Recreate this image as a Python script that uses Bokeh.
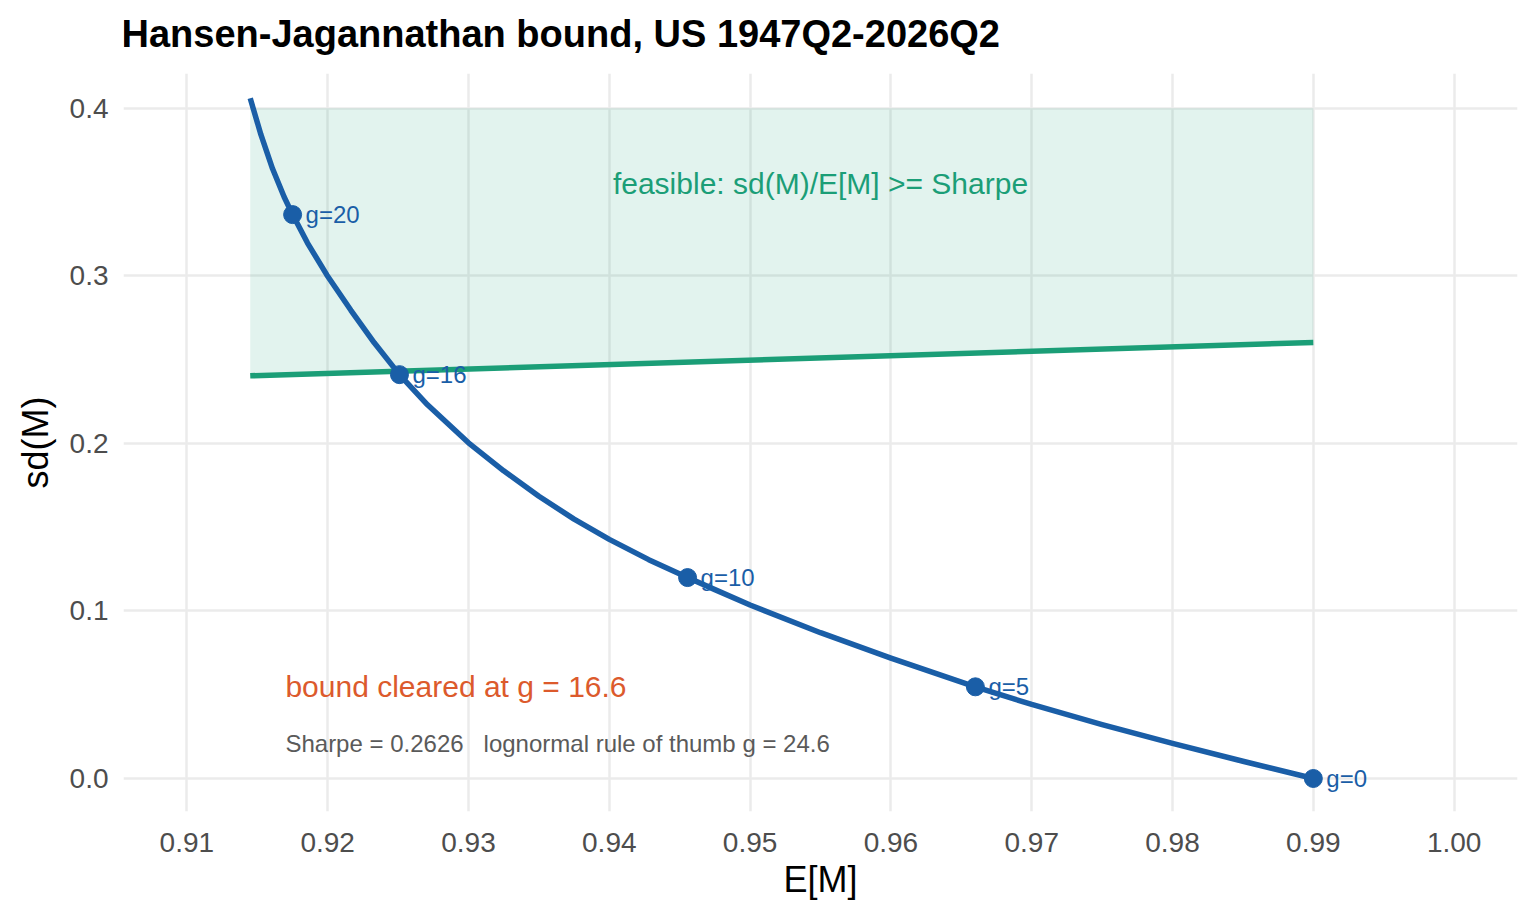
from bokeh.plotting import figure
from bokeh.layouts import column
from bokeh.models import Range1d, FixedTicker, ColumnDataSource
from bokeh.embed import file_html
from bokeh.resources import INLINE
from bokeh.core.properties import value

# ---- data ----
# Hansen-Jagannathan frontier of the power-utility SDF (E[M], sd(M))
curve_em = [0.91450, 0.91526, 0.91608, 0.91691, 0.91751, 0.91857, 0.91994,
            0.92165, 0.92331, 0.92510, 0.92709, 0.93000, 0.93250, 0.93500,
            0.93750, 0.94000, 0.94280, 0.94556, 0.94750, 0.95000, 0.95500,
            0.96000, 0.96600, 0.97000, 0.97500, 0.98000, 0.98500, 0.99000]
curve_sd = [0.4059, 0.3842, 0.3640, 0.3470, 0.3365, 0.3195, 0.3005,
            0.2794, 0.2600, 0.2410, 0.2230, 0.2003, 0.1836, 0.1684,
            0.1548, 0.1427, 0.1306, 0.1199, 0.1127, 0.1035, 0.0870,
            0.0718, 0.0547, 0.0442, 0.0322, 0.0210, 0.0103, 0.0000]

# labelled risk-aversion values
g_labels = ["g=0", "g=5", "g=10", "g=16", "g=20"]
g_em = [0.9900, 0.9660, 0.94556, 0.92510, 0.91751]
g_sd = [0.0000, 0.0547, 0.1199, 0.2410, 0.3365]

# HJ bound line sd(M) = Sharpe * E[M]
bound_em = [0.9145, 0.9900]
bound_sd = [0.2403, 0.2602]
region_top = [0.40, 0.40]

sharpe = 0.2626
g_clear = 16.6
g_thumb = 24.6

x_ticks = [0.91, 0.92, 0.93, 0.94, 0.95, 0.96, 0.97, 0.98, 0.99, 1.00]
x_tick_labels = ["0.91", "0.92", "0.93", "0.94", "0.95", "0.96", "0.97", "0.98", "0.99", "1.00"]
y_ticks = [0.0, 0.1, 0.2, 0.3, 0.4]
y_tick_labels = ["0.0", "0.1", "0.2", "0.3", "0.4"]

TITLE = "Hansen-Jagannathan bound, US 1947Q2-2026Q2"

BLUE = "#1A5EA7"
GREEN = "#1B9E77"
ORANGE = "#DC5A2C"
FONT = "Liberation Sans"

W = 1520
TITLE_H = 73
MAIN_H = 832
LEFT, RIGHT = 123, 3

# ---- title strip: a frame-only figure whose frame lines up with the main panel ----
t = figure(width=W, height=TITLE_H, output_backend="svg", toolbar_location=None,
           x_axis_location=None, y_axis_location=None,
           x_range=Range1d(LEFT, W - RIGHT), y_range=Range1d(0, TITLE_H),
           min_border_left=LEFT, min_border_right=RIGHT,
           min_border_top=0, min_border_bottom=0)
t.grid.visible = False
t.outline_line_color = None
t.background_fill_color = "white"
t.border_fill_color = "white"
t.text(x=[121], y=[TITLE_H - 33], text=[TITLE], text_align="left",
       text_baseline="middle", text_font=value(FONT), text_font_size="38px",
       text_font_style="bold", text_color="black")

# ---- main panel ----
p = figure(width=W, height=MAIN_H, output_backend="svg", toolbar_location=None,
           x_range=Range1d(0.9055, 1.0045), y_range=Range1d(-0.0197, 0.4207),
           min_border_left=LEFT, min_border_right=RIGHT, min_border_top=0, min_border_bottom=94)

p.outline_line_color = None
p.background_fill_color = "white"
p.border_fill_color = "white"

for ax in (p.xaxis[0], p.yaxis[0]):
    ax.axis_line_color = None
    ax.major_tick_line_color = None
    ax.minor_tick_line_color = None
    ax.major_tick_out = 0
    ax.major_tick_in = 0
    ax.major_label_text_font = FONT
    ax.major_label_text_font_size = "28px"
    ax.major_label_text_color = "#4D4D4D"
    ax.axis_label_text_font = FONT
    ax.axis_label_text_font_size = "36px"
    ax.axis_label_text_font_style = "normal"
    ax.axis_label_text_color = "black"

p.xaxis[0].ticker = FixedTicker(ticks=x_ticks)
p.xaxis[0].major_label_overrides = {t_: l for t_, l in zip(x_ticks, x_tick_labels)}
p.yaxis[0].ticker = FixedTicker(ticks=y_ticks)
p.yaxis[0].major_label_overrides = {t_: l for t_, l in zip(y_ticks, y_tick_labels)}
p.xaxis[0].axis_label = "E[M]"
p.yaxis[0].axis_label = "sd(M)"
p.xaxis[0].major_label_standoff = 21
p.yaxis[0].major_label_standoff = 15
p.xaxis[0].axis_label_standoff = 4
p.yaxis[0].axis_label_standoff = 11

p.xgrid[0].ticker = FixedTicker(ticks=x_ticks)
p.ygrid[0].ticker = FixedTicker(ticks=y_ticks)
for gr in (p.xgrid[0], p.ygrid[0]):
    gr.grid_line_color = "#EBEBEB"
    gr.grid_line_width = 2.5
    gr.minor_grid_line_color = None

# feasible region
p.varea(x=bound_em, y1=bound_sd, y2=region_top, fill_color=GREEN, fill_alpha=0.125)
# bound line
p.line(bound_em, bound_sd, line_color=GREEN, line_width=5.5)
# frontier
p.line(curve_em, curve_sd, line_color=BLUE, line_width=5.5, line_join="round")
src = ColumnDataSource(dict(x=g_em, y=g_sd, t=g_labels))
p.scatter("x", "y", source=src, size=18, fill_color=BLUE, line_color=BLUE)
p.text("x", "y", text="t", source=src, x_offset=13, text_align="left",
       text_baseline="middle", text_font=value(FONT), text_font_size="24px",
       text_color=BLUE)

# annotations
p.text(x=[0.955], y=[0.355], text=["feasible: sd(M)/E[M] >= Sharpe"],
       text_align="center", text_baseline="middle", text_font=value(FONT),
       text_font_size="30px", text_color=GREEN)
p.text(x=[0.917], y=[0.055], text=[f"bound cleared at g = {g_clear}"],
       text_align="left", text_baseline="middle", text_font=value(FONT),
       text_font_size="30px", text_color=ORANGE)
p.text(x=[0.917], y=[0.021],
       text=[f"Sharpe = {sharpe}\u00a0\u00a0\u00a0lognormal rule of thumb g = {g_thumb}"],
       text_align="left", text_baseline="middle", text_font=value(FONT),
       text_font_size="24px", text_color="#5A5A5A")

layout = column(t, p, spacing=0)
open("out.html", "w").write(file_html(layout, INLINE))
